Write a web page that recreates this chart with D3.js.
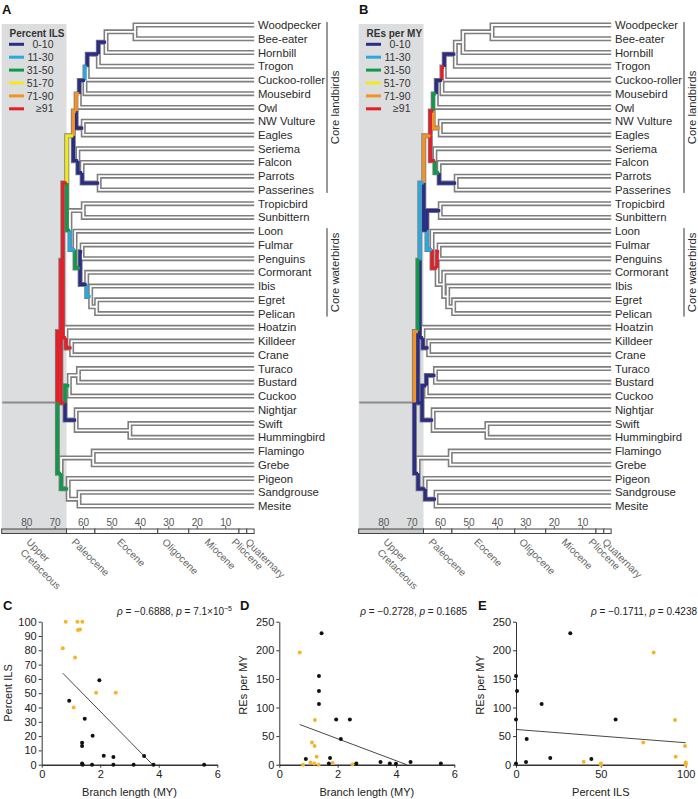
<!DOCTYPE html>
<html><head><meta charset="utf-8">
<script src="https://cdn.jsdelivr.net/npm/d3@7"></script>
<style>
body{margin:0;background:#fff}
text{font-family:"Liberation Sans",Arial,Helvetica,sans-serif}
</style>
</head><body>
<svg id="chart" width="698" height="799"></svg>
<script>
// ---------------- DATA ----------------
const leaves = ["Woodpecker","Bee-eater","Hornbill","Trogon","Cuckoo-roller","Mousebird","Owl","NW Vulture","Eagles","Seriema","Falcon","Parrots","Passerines","Tropicbird","Sunbittern","Loon","Fulmar","Penguins","Cormorant","Ibis","Egret","Pelican","Hoatzin","Killdeer","Crane","Turaco","Bustard","Cuckoo","Nightjar","Swift","Hummingbird","Flamingo","Grebe","Pigeon","Sandgrouse","Mesite"];

const cladeIds = ["n1","n2","n3","n4","n5","n6","n7","n8","PP","FPP","Aus","Tel","Pha","EP","IEP","CIEP","FP","FPC","Aeq","Z","Q","Cur","W","P2","TB","Oti","SH","Cap","Otd","Pas","FG","SM","Pig","Col","root"];
const cladeChildren = [
  ["Woodpecker","Bee-eater"],["n1","Hornbill"],["n2","Trogon"],["n3","Cuckoo-roller"],["n4","Mousebird"],["n5","Owl"],
  ["NW Vulture","Eagles"],["n6","n7"],["Parrots","Passerines"],["Falcon","PP"],["Seriema","FPP"],["n8","Aus"],
  ["Tropicbird","Sunbittern"],["Egret","Pelican"],["Ibis","EP"],["Cormorant","IEP"],["Fulmar","Penguins"],["FP","CIEP"],
  ["Loon","FPC"],["Pha","Aeq"],["Tel","Z"],["Killdeer","Crane"],["Hoatzin","Cur"],["Q","W"],
  ["Turaco","Bustard"],["TB","Cuckoo"],["Swift","Hummingbird"],["Nightjar","SH"],["Oti","Cap"],["P2","Otd"],
  ["Flamingo","Grebe"],["Sandgrouse","Mesite"],["Pigeon","SM"],["FG","Pig"],["Pas","Col"]];
const cladeAges = [41.9,52.1,54.8,58.7,59.5,61.5,60.1,62.6,54.5,60.5,62.0,63.6,60.1,55.4,57.5,58.9,60.5,61.2,63.0,64.8,65.9,64.2,66.2,67.3,61.8,65.0,43.7,62.6,66.5,68.0,56.6,61.6,65.4,67.9,69.2];
// bin index of the branch leading to each clade (-1 = uncoloured)
const ilsBins = [-1,0,0,1,0,4,0,4,0,0,0,3,-1,-1,1,0,0,2,1,2,5,5,5,5,-1,2,-1,0,5,5,-1,-1,2,2,-1];
const reBins  = [-1,-1,0,5,0,2,4,5,0,2,5,4,0,-1,-1,-1,5,5,1,0,1,0,0,2,0,0,-1,0,0,4,-1,0,0,0,-1];

const binLabels = ["0-10","11-30","31-50","51-70","71-90","\u226591"];
const binColors = ["#2b2d84","#2aa9e0","#0f9a4a","#f2ea1a","#f39325","#e2202a"];

const axisTicks = [80,70,60,50,40,30,20,10];
const epochNames = [["Upper","Cretaceous"],["Paleocene"],["Eocene"],["Oligocene"],["Miocene"],["Pliocene"],["Quaternary"]];
const epochStart = [88.8,66,56,33.9,23,5.33,2.58];
const epochEnd   = [66,56,33.9,23,5.33,2.58,0];

// scatter data
const cBlack = [[1.97,59],[0.94,44.8],[1.47,32.2],[1.38,15.4],[1.38,13],[1.74,20.3],[2.12,6.3],[2.45,5.4],[3.5,6.1],[1.38,0.8],[1.4,0],[1.72,0],[2.45,0],[3.14,0],[3.82,0],[5.55,0]];
const cOrange = [[0.82,100],[1.22,100],[1.39,100],[1.24,94.2],[1.31,94.6],[0.72,81.4],[1.14,75],[1.86,50.3],[2.53,50.3],[1.09,40]];
const cFit = [[0.72,64],[3.79,0]];
const dBlack = [[1.45,230],[1.36,155],[1.36,129],[1.36,106],[1.95,79],[2.42,79],[2.11,45],[0.91,10],[1.74,11.6],[1.7,2.3],[2.64,2.3],[3.47,4.6],[3.79,2.3],[4.0,1.7],[4.5,4.6],[5.54,2.3]];
const dOrange = [[0.7,196],[1.22,78],[1.12,39],[1.21,32.6],[1.28,14],[1.07,4],[1.2,2.3],[0.81,0],[1.35,0],[1.83,2.9],[2.51,0.6]];
const dFit = [[0.7,70.3],[4.37,0]];
const eBlack = [[0,155],[0.6,129],[0,79],[0,2.3],[6.3,45],[5.9,4.6],[15.1,106],[20.2,11.6],[32,230],[44.4,10],[58.7,79]];
const eOrange = [[39.9,5.2],[50,2.3],[50,0],[75,39],[81.1,196],[93.7,78],[94.1,14],[99.6,32.6],[100,4],[100,2.3],[100,0]];
const eFit = [[0,61.6],[100,38.4]];
const xTicksBL = [0,2,4,6];
const xTicksILS = [0,50,100];
const yTicksILS = [0,10,20,30,40,50,60,70,80,90,100];
const yTicksRE = [0,50,100,150,200,250];
const stats = [["-0.6888","7.1\u00d710","\u22125"],["-0.2728","0.1685",""],["-0.1711","0.4238",""]];

// ---------------- DRAW ----------------
const svg = d3.select("#chart");
const yLeaf = d3.scalePoint().domain(leaves).range([25, 506]);
const epochLabelShift = [-2.5, -4, -4, -6, -4, -6, 0];

function drawTree(offset, bins, legendTitle, letter) {
  const g = svg.append("g").attr("transform", `translate(${offset},0)`);
  const x = d3.scaleLinear().domain([80, 10]).range([26.7, 225.7]);
  const x0 = x(0);
  // background
  g.append("rect").attr("x", x(88.8)).attr("y", 24).attr("width", x(66) - x(88.8)).attr("height", 505).attr("fill", "#dcdddf");
  g.append("text").attr("x", 2).attr("y", 13.5).attr("font-size", 13).attr("font-weight", "bold").attr("fill", "#111").text(letter);
  // legend
  g.append("text").attr("x", 9.5).attr("y", 36.5).attr("font-size", 10).attr("font-weight", "bold").attr("fill", "#333").text(legendTitle);
  binLabels.forEach((lab, i) => {
    const yy = 44.3 + i * 12.9;
    g.append("line").attr("x1", 9).attr("x2", 24).attr("y1", yy).attr("y2", yy).attr("stroke", binColors[i]).attr("stroke-width", 3);
    g.append("text").attr("x", 53.5).attr("y", yy).attr("dy", "0.35em").attr("text-anchor", "end").attr("font-size", 10.5).attr("fill", "#333").text(lab);
  });
  // node positions
  const pos = {};
  leaves.forEach(l => pos[l] = { x: x0, y: yLeaf(l) });
  const resolve = (id) => {
    if (pos[id]) return pos[id];
    const i = cladeIds.indexOf(id);
    const ch = cladeChildren[i].map(resolve);
    pos[id] = { x: x(cladeAges[i]), y: (ch[0].y + ch[1].y) / 2 };
    return pos[id];
  };
  resolve("root");
  const edges = [];
  cladeIds.forEach((id, i) => {
    cladeChildren[i].forEach(c => {
      const ci = cladeIds.indexOf(c);
      edges.push({ p: pos[id], c: pos[c], bin: ci >= 0 ? bins[ci] : -1 });
    });
  });
  const path = e => `M${e.p.x},${e.p.y}V${e.c.y}H${e.c.x}`;
  // root stem
  g.append("line").attr("x1", x(88.6)).attr("x2", pos.root.x).attr("y1", pos.root.y).attr("y2", pos.root.y).attr("stroke", "#8c8c8c").attr("stroke-width", 2);
  g.append("g").selectAll("path").data(edges).join("path").attr("d", path).attr("fill", "none")
    .attr("stroke", "#7e7e7e").attr("stroke-width", 5);
  g.append("g").selectAll("path").data(edges).join("path").attr("d", path).attr("fill", "none")
    .attr("stroke", e => e.bin < 0 ? "#fff" : binColors[e.bin]).attr("stroke-width", e => e.bin < 0 ? 1.8 : 3.3);
  // leaf labels
  g.append("g").selectAll("text").data(leaves).join("text").attr("x", x0 + 3.8).attr("y", d => yLeaf(d)).attr("dy", "0.36em")
    .attr("font-size", 11.3).attr("fill", "#2a2a2a").text(d => d);
  // brackets
  const brackets = [["Core landbirds", "Woodpecker", "Passerines"], ["Core waterbirds", "Loon", "Pelican"]];
  brackets.forEach(b => {
    const y1 = yLeaf(b[1]) - 3, y2 = yLeaf(b[2]) + 3;
    g.append("line").attr("x1", 327).attr("x2", 327).attr("y1", y1).attr("y2", y2).attr("stroke", "#333").attr("stroke-width", 1);
    g.append("text").attr("transform", `translate(335.3,${(y1 + y2) / 2}) rotate(-90)`).attr("text-anchor", "middle").attr("dy", "0.36em")
      .attr("font-size", 11.3).attr("fill", "#2a2a2a").text(b[0]);
  });
  // time axis
  const ax = g.append("g");
  ax.selectAll("line.t").data(axisTicks).join("line").attr("x1", d => x(d)).attr("x2", d => x(d)).attr("y1", 526).attr("y2", 529).attr("stroke", "#555");
  ax.selectAll("text.t").data(axisTicks).join("text").attr("x", d => x(d)).attr("y", 525.5).attr("text-anchor", "middle").attr("font-size", 10).attr("fill", "#555").text(d => d);
  epochStart.forEach((s, i) => {
    ax.append("rect").attr("x", x(s)).attr("y", 529).attr("width", x(epochEnd[i]) - x(s)).attr("height", 4.5)
      .attr("fill", i === 0 ? "#c9cacc" : "#fff").attr("stroke", "#444").attr("stroke-width", 1);
    const mid = x((s + epochEnd[i]) / 2) + epochLabelShift[i];
    const t = ax.append("text").attr("transform", `translate(${mid},537) rotate(45)`).attr("font-size", 10.2).attr("fill", "#666");
    epochNames[i].forEach((w, k) => t.append("tspan").attr("x", k * 3).attr("dy", k === 0 ? "0.8em" : "1.15em").text(w));
  });
}
drawTree(0, ilsBins, "Percent ILS", "A");
drawTree(357, reBins, "REs per MY", "B");

function scatter(o) {
  const g = svg.append("g");
  const x = d3.scaleLinear().domain(o.xd).range(o.xr);
  const y = d3.scaleLinear().domain(o.yd).range([764.7, 621.7]);
  g.append("text").attr("x", o.lx).attr("y", 610).attr("font-size", 13).attr("font-weight", "bold").attr("fill", "#111").text(o.letter);
  const ya = g.append("g").attr("transform", `translate(${o.xr[0]},0)`).call(d3.axisLeft(y).tickValues(o.yt).tickFormat(d3.format("d")).tickSize(3).tickSizeOuter(0).tickPadding(2));
  const xa = g.append("g").attr("transform", `translate(0,${y(0)})`).call(d3.axisBottom(x).tickValues(o.xt).tickFormat(d3.format("d")).tickSize(3).tickSizeOuter(0).tickPadding(3));
  [ya, xa].forEach(a => {
    a.selectAll("text").attr("font-size", 11).attr("fill", "#222").attr("font-family", "Liberation Sans, Arial, sans-serif");
    a.selectAll("line").attr("stroke", "#333");
    a.select(".domain").attr("stroke", "#333");
  });
  xa.select(".domain").attr("stroke-width", 1.4);
  g.append("path").datum(o.fit).attr("d", d3.line().x(d => x(d[0])).y(d => y(d[1]))).attr("stroke", "#333").attr("stroke-width", 0.9).attr("fill", "none");
  g.append("g").selectAll("circle").data(o.orange).join("circle").attr("cx", d => x(d[0])).attr("cy", d => y(d[1])).attr("r", 2).attr("fill", "#f6b52c");
  g.append("g").selectAll("circle").data(o.black).join("circle").attr("cx", d => x(d[0])).attr("cy", d => y(d[1])).attr("r", 2).attr("fill", "#111");
  g.append("text").attr("x", (o.xr[0] + o.xr[1]) / 2).attr("y", 796).attr("text-anchor", "middle").attr("font-size", 11).attr("fill", "#222").text(o.xl);
  g.append("text").attr("transform", `translate(${o.ylx},${o.yly}) rotate(-90)`).attr("text-anchor", "middle").attr("dy", "0.36em").attr("font-size", 11).attr("fill", "#222").text(o.yl);
  const st = g.append("text").attr("x", o.sx).attr("y", 615).attr("text-anchor", "end").attr("font-size", 10).attr("fill", "#222");
  st.append("tspan").attr("font-style", "italic").text("\u03c1");
  st.append("tspan").text(" = " + o.s[0].replace("-", "\u2212") + ", ");
  st.append("tspan").attr("font-style", "italic").text("p");
  st.append("tspan").text(" = " + o.s[1]);
  if (o.s[2]) st.append("tspan").attr("font-size", 7).attr("dy", -4).text(o.s[2]);
}
scatter({xd:[0,6], xr:[41.7,217.3], yd:[0,100], xt:xTicksBL, yt:yTicksILS, black:cBlack, orange:cOrange, fit:cFit,
  xl:"Branch length (MY)", yl:"Percent ILS", ylx:8.5, yly:693, letter:"C", lx:3, s:stats[0], sx:232});
scatter({xd:[0,6], xr:[279.3,454.3], yd:[0,250], xt:xTicksBL, yt:yTicksRE, black:dBlack, orange:dOrange, fit:dFit,
  xl:"Branch length (MY)", yl:"REs per MY", ylx:243.5, yly:685, letter:"D", lx:240, s:stats[1], sx:467});
scatter({xd:[0,100], xr:[516,685.7], yd:[0,250], xt:xTicksILS, yt:yTicksRE, black:eBlack, orange:eOrange, fit:eFit,
  xl:"Percent ILS", yl:"REs per MY", ylx:480, yly:685, letter:"E", lx:478, s:stats[2], sx:697});
</script>
</body></html>
